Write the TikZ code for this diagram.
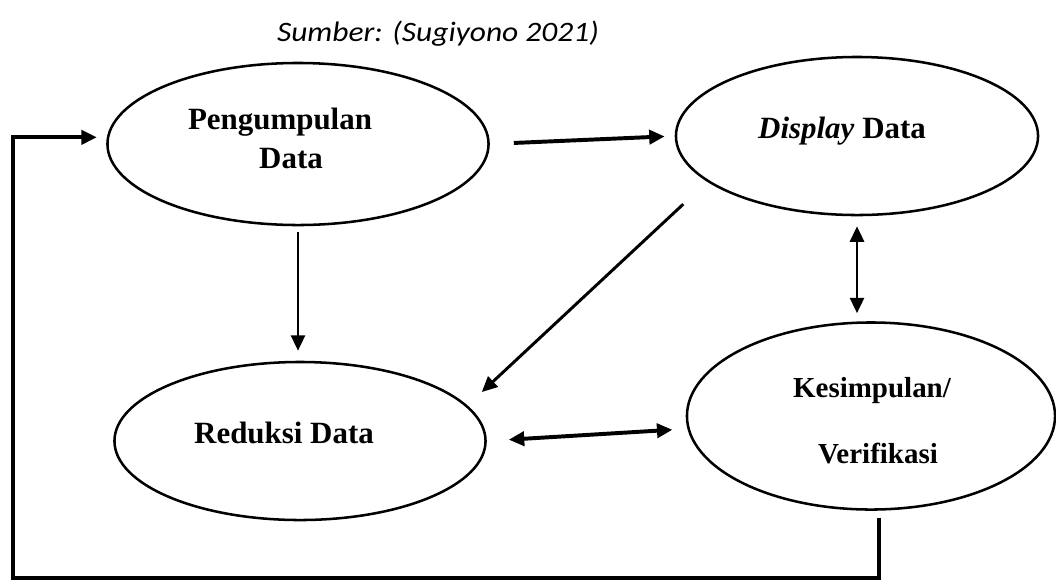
\documentclass[tikz,border=0pt]{standalone}
\usepackage{fontspec}
\setmainfont{Liberation Serif}
\newfontfamily\srcfont{Carlito}
\usetikzlibrary{shapes.geometric}
\usetikzlibrary{arrows.meta}

\tikzset{
stage/.style={draw, ellipse, line width=1.8pt, fill=white, inner sep=0pt},
lbl/.style={font=\fontsize{22}{26}\selectfont\bfseries, anchor=base, inner sep=0pt},
heavy/.style={line width=2.8pt},
light/.style={line width=1.9pt},
}

\begin{document}
\begin{tikzpicture}[x=0.025cm, y=-0.025cm, >={Triangle[length=11pt,width=10pt]}]
\useasboundingbox (0,0) rectangle (1056,581);

%caption
\node[font=\srcfont\itshape\fontsize{20}{22}\selectfont, anchor=base, inner sep=0pt] (src) at (438,41) {\scalebox{1.12}[1]{Sumber: (Sugiyono 2021)}};

%stages
\node[stage, minimum width=9.525cm, minimum height=4.05cm] (peng) at (298,144) {};
\node[stage, minimum width=9.05cm, minimum height=3.95cm] (disp) at (857,136) {};
\node[stage, minimum width=9.275cm, minimum height=3.95cm] (red) at (300,441) {};
\node[stage, minimum width=9.2cm, minimum height=4.675cm] (kes) at (871,416) {};

%labels
\node[lbl] (pengA) at (280,129) {Pengumpulan};
\node[lbl] (pengB) at (291,168) {Data};
\node[lbl] (dispT) at (842,138) {\textit{Display} Data};
\node[lbl] (redT) at (284,443) {Reduksi Data};
\node[lbl, font=\fontsize{20.6}{24}\selectfont\bfseries] (kesA) at (872,397) {Kesimpulan/};
\node[lbl, font=\fontsize{20.6}{24}\selectfont\bfseries] (kesB) at (878,463) {Verifikasi};

%flows
\draw[heavy, ->, shorten <=0.6cm, shorten >=0.25cm] (peng.east) -- (disp.west);
\draw[light, ->, shorten <=0.15cm, shorten >=0.25cm] (peng.south) -- (peng.south |- red.north);
\draw[line width=2.1pt, ->, shorten <=0.82cm, shorten >=0.49cm] (disp.197) -- (red.12);
\draw[light, <->, shorten <=0.25cm, shorten >=0.2cm] (disp.south) -- (disp.south |- kes.north);
\draw[heavy, <->, shorten <=0.55cm, shorten >=0.375cm] (red.east) -- (kes.184);

%return loop
\coordinate (corner) at (13,578);
\draw[heavy, ->, shorten >=0.25cm] ([yshift=-0.175cm]kes.275) |- (corner) |- (peng.178);
\end{tikzpicture}
\end{document}
